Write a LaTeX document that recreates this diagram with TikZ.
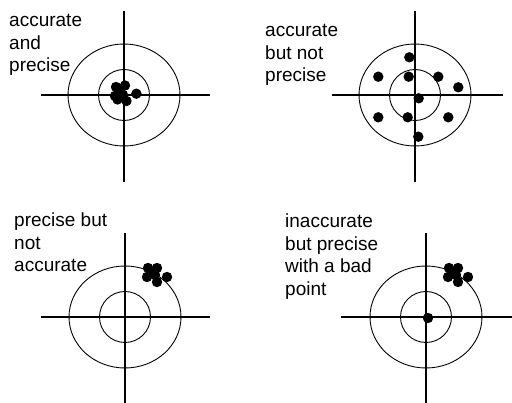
\documentclass[tikz,border=0pt]{standalone}
\usepackage{fontspec}
\setmainfont{Liberation Sans}
\usetikzlibrary{calc}
\begin{document}
\begin{tikzpicture}[x=1pt,y=-1pt,
  cross/.style={line width=1.2pt},
  ring/.style={line width=0.9pt},
  shot/.style={fill=black},
  lbl/.style={anchor=base west,inner sep=0pt,font=\fontsize{19}{22.5}\selectfont}]
\useasboundingbox (0,0) rectangle (512,403);
\foreach \cx/\cy/\hl/\hr/\vt/\vb/\nm in {124/95/41/210/11/182/a,415/95/332/503/11/182/b,125/317/41/210/233/403/c,426/317/341/512/233/403/d}{
  \coordinate (\nm) at (\cx,\cy);
  \draw[cross] (\hl,\cy) -- (\hr,\cy);
  \draw[cross] (\cx,\vt) -- (\cx,\vb);
  \draw[ring] (\nm) ellipse [x radius=56, y radius=51];
  \draw[ring] (\nm) ellipse [x radius=25.5, y radius=25.5];
}
% accurate and precise
\foreach \dx/\dy in {-8/-8,1/-9.5,-9/1,-1/0,12.4/-1.3,2.5/6,-6.5/4.5,-4/-3}
  \fill[shot] ($(a)+(\dx,\dy)$) circle (5.2);
% accurate but not precise
\foreach \dx/\dy in {-5.7/-37.7,-36.7/-18.3,-6.3/-18.3,23.3/-18.3,43.3/-7.7,3.7/3.3,-36.7/22.3,-7.3/22.3,33.3/22.3,3.3/41.7}
  \fill[shot] ($(b)+(\dx,\dy)$) circle (5.2);
% precise but not accurate
\foreach \dx/\dy in {23/-49,32/-49,22/-40,30/-42,32/-35,42/-40,27/-45}
  \fill[shot] ($(c)+(\dx,\dy)$) circle (5.2);
% inaccurate but precise with a bad point
\foreach \dx/\dy in {23/-49,32/-49,22/-40,30/-42,32/-35,42/-40,27/-45,2/1}
  \fill[shot] ($(d)+(\dx,\dy)$) circle (5.2);
\node[lbl] (ta) at (9,27) {\begin{tabular}[t]{@{}l@{}}accurate\\and\\precise\end{tabular}};
\node[lbl] (tb) at (265,37) {\begin{tabular}[t]{@{}l@{}}accurate\\but not\\precise\end{tabular}};
\node[lbl] (tc) at (14,227) {\begin{tabular}[t]{@{}l@{}}precise but\\not\\accurate\end{tabular}};
\node[lbl] (td) at (285,228) {\begin{tabular}[t]{@{}l@{}}inaccurate\\but precise\\with a bad\\point\end{tabular}};
\end{tikzpicture}
\end{document}
